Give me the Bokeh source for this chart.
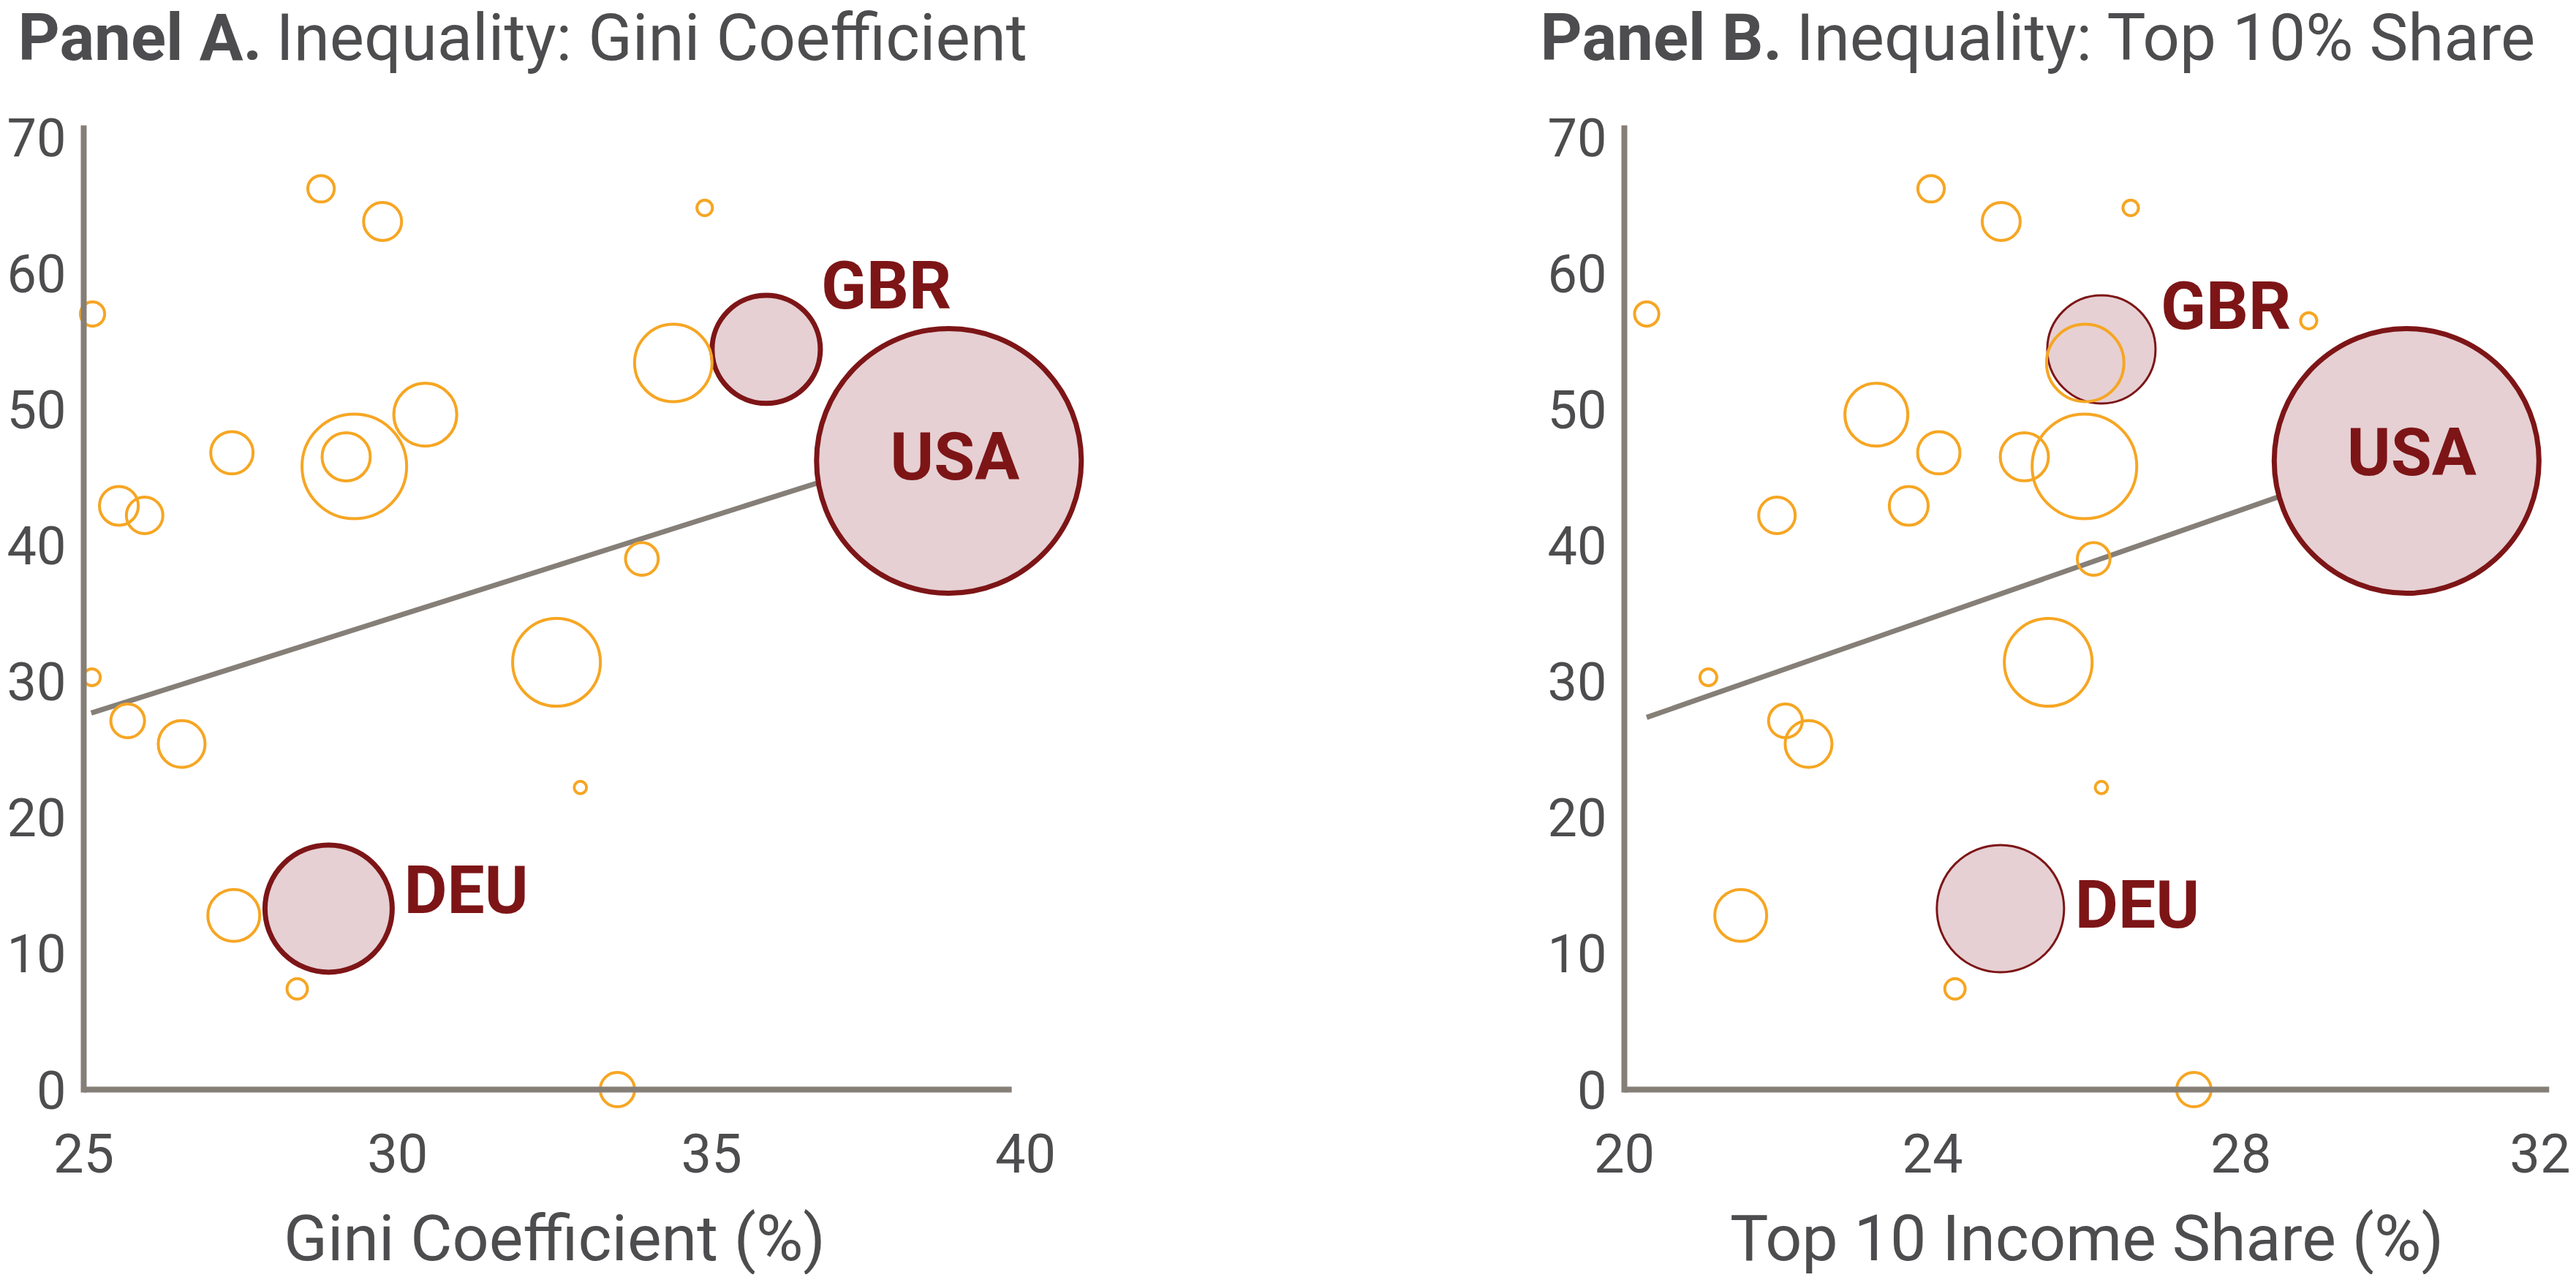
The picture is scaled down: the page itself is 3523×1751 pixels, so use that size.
import math
from bokeh.plotting import figure
from bokeh.models import Range1d, FixedTicker, Label, ColumnDataSource
from bokeh.layouts import row
from bokeh.embed import file_html
from bokeh.resources import INLINE

nan = float("nan")

# ---------------- data ----------------
# other countries (orange rings); one country has no Gini value (NaN)
other_gini = [28.78, 29.76, 34.89, 25.14, 34.39, nan, 30.44, 29.31, 29.18, 27.36, 25.56,
              25.97, 33.89, 25.13, 25.70, 26.56, 32.53, 32.91, 27.39, 28.40, 33.50]
other_top10 = [23.98, 24.89, 26.57, 20.29, 25.98, 28.88, 23.27, 25.97, 25.19, 24.08, 23.69,
               21.98, 26.09, 21.09, 22.09, 22.39, 25.50, 26.19, 21.51, 24.29, 27.39]
other_outcome = [66.2, 63.8, 64.8, 57.0, 53.4, 56.5, 49.6, 45.8, 46.5, 46.8, 42.9,
                 42.2, 39.0, 30.3, 27.1, 25.4, 31.4, 22.2, 12.8, 7.4, 0.0]
other_pop = [3.2, 6.6, 1.1, 2.7, 27.4, 1.2, 18.1, 50.0, 10.6, 8.2, 6.9,
             6.1, 4.9, 1.3, 5.2, 10.0, 35.2, 0.7, 12.3, 1.9, 5.4]

# highlighted countries
hl_iso = ["GBR", "USA", "DEU"]
hl_gini = [35.87, 38.78, 28.90]
hl_top10 = [26.19, 30.15, 24.88]
hl_outcome = [54.4, 46.2, 13.3]
hl_pop = [53.5, 320.0, 73.9]

# fitted lines (end points)
trendA_x = [25.12, 38.78]
trendA_y = [27.67, 47.64]
trendB_x = [20.29, 30.15]
trendB_y = [27.35, 46.85]

y_ticks = [0, 10, 20, 30, 40, 50, 60, 70]
xA_ticks = [25, 30, 35, 40]
xB_ticks = [20, 24, 28, 32]

# ---------------- styles ----------------
FONT = "Roboto"
ORANGE = "#F6A623"
RED = "#7D1517"
PINK = "#E6D0D3"
GREY = "#857F78"
TEXT = "#4D4D4F"
BUBBLE = 10.12          # px radius per sqrt(pop)
BASE_FIX = 0.363        # label baseline correction (em)

H = 1743
Y_RANGE = (-13.592, 80.048)
Y_TOP = 70.64


def diam(pops):
    return [2 * BUBBLE * math.sqrt(v) for v in pops]


def panel(xo, xh, tx, ty, xr, xorig, xbounds, xline_end, xticks, xlabel, bold, rest,
          width, bold_x, rest_x, hl_lw, offsets):
    p = figure(width=width, height=H, x_range=Range1d(*xr), y_range=Range1d(*Y_RANGE),
               output_backend="svg", toolbar_location=None,
               min_border_left=0, min_border_right=0,
               min_border_top=0, min_border_bottom=0)
    p.title.visible = False
    p.outline_line_color = None
    p.grid.visible = False
    p.background_fill_color = "white"
    p.border_fill_color = "white"

    p.line(tx, ty, line_color=GREY, line_width=7)

    hs = ColumnDataSource(dict(x=xh, y=hl_outcome, s=diam(hl_pop), lw=hl_lw))
    p.scatter("x", "y", size="s", source=hs, marker="circle", fill_color=PINK,
              line_color=RED, line_width="lw")
    os_ = ColumnDataSource(dict(x=xo, y=other_outcome, s=diam(other_pop)))
    p.scatter("x", "y", size="s", source=os_, marker="circle", fill_color=None,
              line_color=ORANGE, line_width=4)

    # x-axis line (drawn over the rings, like the reference)
    p.segment(x0=[xorig], y0=[0], x1=[xline_end], y1=[0], line_color=GREY,
              line_width=8)

    fs = 91
    for iso, x, y in zip(hl_iso, xh, hl_outcome):
        dx, dy, al = offsets[iso]
        p.add_layout(Label(x=x, y=y, x_offset=dx, y_offset=dy + BASE_FIX * fs, text=iso,
                           text_font=FONT, text_font_size=f"{fs}px",
                           text_font_style="bold", text_color=RED,
                           text_align=al, text_baseline="alphabetic"))

    ya = p.yaxis[0]
    ya.fixed_location = xorig
    ya.ticker = FixedTicker(ticks=y_ticks)
    ya.bounds = (0, Y_TOP)
    ya.axis_line_color = GREY
    ya.axis_line_width = 8
    ya.axis_line_cap = "square"
    ya.major_tick_line_color = None
    ya.minor_tick_line_color = None
    ya.major_tick_out = 0
    ya.major_tick_in = 0
    ya.major_label_standoff = 24
    ya.major_label_text_font = FONT
    ya.major_label_text_font_size = "72px"
    ya.major_label_text_color = TEXT

    xa = p.xaxis[0]
    xa.fixed_location = 0
    xa.ticker = FixedTicker(ticks=xticks)
    xa.bounds = xbounds
    xa.axis_line_color = None
    xa.major_tick_line_color = None
    xa.minor_tick_line_color = None
    xa.major_tick_out = 0
    xa.major_tick_in = 0
    xa.major_label_standoff = 60
    xa.major_label_text_font = FONT
    xa.major_label_text_font_size = "74px"
    xa.major_label_text_color = TEXT
    xa.axis_label = xlabel
    xa.axis_label_standoff = 35
    xa.axis_label_text_font = FONT
    xa.axis_label_text_font_size = "88px"
    xa.axis_label_text_font_style = "normal"
    xa.axis_label_text_color = TEXT

    tfs = 89
    ty_screen = H - 83 + BASE_FIX * tfs
    p.add_layout(Label(x=bold_x, y=ty_screen, x_units="screen", y_units="screen",
                       text=bold, text_font=FONT, text_font_size=f"{tfs}px",
                       text_font_style="bold", text_color=TEXT,
                       text_baseline="alphabetic"))
    p.add_layout(Label(x=rest_x, y=ty_screen, x_units="screen", y_units="screen",
                       text=rest, text_font=FONT, text_font_size=f"{tfs}px",
                       text_color=TEXT, text_baseline="alphabetic"))
    return p


pA = panel(other_gini, hl_gini, trendA_x, trendA_y, (23.6724, 48.105), 25, (25, 40),
           39.78, xA_ticks, "Gini Coefficient (%)", "Panel A.",
           "Inequality: Gini Coefficient", 2098, 24, 377, [7, 7, 7],
           {"GBR": (75, 54, "left"), "USA": (8, -27, "center"), "DEU": (103, -8, "left")})
pB = panel(other_top10, hl_top10, trendB_x, trendB_y, (18.833, 32.277), 20, (20, 32),
           32, xB_ticks, "Top 10 Income Share (%)", "Panel B.",
           "Inequality: Top 10% Share", 1417, 8, 358, [3, 7, 3],
           {"GBR": (81, 26, "left"), "USA": (7, -21, "center"), "DEU": (102, -28, "left")})

layout = row(pA, pB)
open("out.html", "w").write(file_html(layout, INLINE))
